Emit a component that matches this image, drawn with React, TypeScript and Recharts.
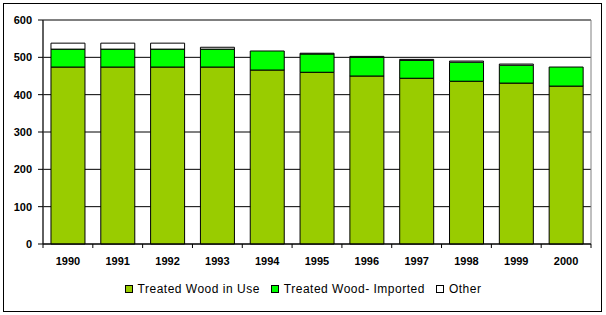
import { Bar, BarChart, CartesianGrid, Legend, ReferenceArea, XAxis, YAxis } from "recharts";

const years = ["1990", "1991", "1992", "1993", "1994", "1995", "1996", "1997", "1998", "1999", "2000"];
const inUse = [474, 474, 474, 474, 466, 460, 450, 444, 436, 431, 423];
const imported = [48, 48, 48, 48, 51, 49, 50, 48, 51, 48, 51];
const other = [16, 16, 16, 5, 0, 2, 2.5, 2.5, 3, 3, 0];
const yTicks = [0, 100, 200, 300, 400, 500, 600];

const series = [
  { key: "inUse", name: "Treated Wood in Use", color: "#99cc00" },
  { key: "imported", name: "Treated Wood- Imported", color: "#00ff00" },
  { key: "other", name: "Other", color: "#ffffff" },
];

const data = years.map((year, i) => ({ year, inUse: inUse[i], imported: imported[i], other: other[i] }));

const FONT = "'Liberation Sans', Arial, sans-serif";

function YearTick(props: any) {
  const { x, y, payload, index, visibleTicksCount } = props;
  const half = payload?.offset ?? 548 / 11 / 2;
  const last = index === visibleTicksCount - 1;
  return (
    <g>
      <line x1={x - half} x2={x - half} y1={y} y2={y + 4} stroke="#000" />
      {last && <line x1={x + half} x2={x + half} y1={y} y2={y + 4} stroke="#000" />}
      <text x={x} y={y + 13} dy="0.71em" textAnchor="middle" fontFamily={FONT} fontWeight="bold" fontSize={11} fill="#000">
        {payload.value}
      </text>
    </g>
  );
}

function LegendBox() {
  return (
    <div style={{ display: "flex", justifyContent: "center", alignItems: "center", height: 20, fontFamily: FONT, fontSize: 12, letterSpacing: 0.5, color: "#000" }}>
      {series.map((s, i) => (
        <div key={s.key} style={{ display: "flex", alignItems: "center", marginLeft: i === 0 ? 0 : 11 }}>
          <span style={{ display: "inline-block", width: 6, height: 6, border: "1px solid #000", background: s.color, marginRight: 5 }} />
          <span>{s.name}</span>
        </div>
      ))}
    </div>
  );
}

export default function App() {
  return (
    <div style={{ position: "absolute", left: 0, top: 0, width: 606, height: 315, background: "#fff" }}>
      <div style={{ position: "absolute", left: 3, top: 3, width: 597, height: 307, border: "1px solid #000" }} />
      <BarChart width={606} height={315} data={data} margin={{ top: 20, right: 15, left: 0, bottom: 16 }} barCategoryGap="16%">
        <CartesianGrid vertical={false} stroke="#000" />
        <ReferenceArea y1={0} y2={600} stroke="#808080" fill="none" ifOverflow="visible" />
        <XAxis
          dataKey="year"
          height={35}
          tickSize={0}
          tickMargin={0}
          tickLine={false}
          axisLine={{ stroke: "#000" }}
          tick={<YearTick />}
          interval={0}
        />
        <YAxis
          width={43}
          domain={[0, 600]}
          ticks={yTicks}
          tickSize={5}
          tickMargin={6}
          axisLine={{ stroke: "#000" }}
          tickLine={{ stroke: "#000" }}
          tick={{ fontFamily: FONT, fontWeight: "bold", fontSize: 11, fill: "#000" }}
        />
        <Legend verticalAlign="bottom" height={20} wrapperStyle={{ left: 0, width: 606 }} content={<LegendBox />} />
        {series.map((s) => (
          <Bar key={s.key} dataKey={s.key} name={s.name} stackId="a" fill={s.color} stroke="#000" strokeWidth={1} isAnimationActive={false} />
        ))}
      </BarChart>
    </div>
  );
}
